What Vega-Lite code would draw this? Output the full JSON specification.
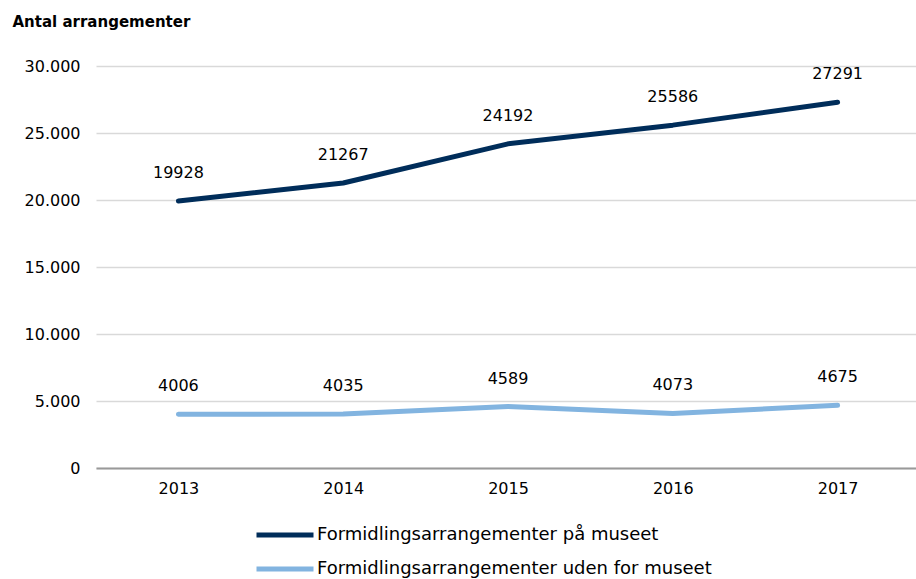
{
  "$schema": "https://vega.github.io/schema/vega-lite/v6.json",
  "width": 824,
  "height": 402,
  "padding": {"left": 96, "top": 66, "right": 0, "bottom": 111},
  "autosize": {"type": "none"},
  "background": "white",
  "config": {
    "view": {"stroke": null},
    "font": "DejaVu Sans",
    "axis": {"labelFont": "DejaVu Sans", "labelFontSize": 16, "labelColor": "#000000"}
  },
  "data": {
    "values": [
      {"year": "2013", "series": "Formidlingsarrangementer på museet", "value": 19928},
      {"year": "2014", "series": "Formidlingsarrangementer på museet", "value": 21267},
      {"year": "2015", "series": "Formidlingsarrangementer på museet", "value": 24192},
      {"year": "2016", "series": "Formidlingsarrangementer på museet", "value": 25586},
      {"year": "2017", "series": "Formidlingsarrangementer på museet", "value": 27291},
      {"year": "2013", "series": "Formidlingsarrangementer uden for museet", "value": 4006},
      {"year": "2014", "series": "Formidlingsarrangementer uden for museet", "value": 4035},
      {"year": "2015", "series": "Formidlingsarrangementer uden for museet", "value": 4589},
      {"year": "2016", "series": "Formidlingsarrangementer uden for museet", "value": 4073},
      {"year": "2017", "series": "Formidlingsarrangementer uden for museet", "value": 4675}
    ]
  },
  "encoding": {
    "x": {
      "field": "year",
      "type": "ordinal",
      "scale": {"type": "point", "padding": 0.5},
      "axis": {
        "title": null,
        "labelAngle": 0,
        "ticks": false,
        "domain": true,
        "domainColor": "#999999",
        "domainWidth": 2,
        "labelPadding": 12,
        "grid": false
      }
    },
    "y": {
      "field": "value",
      "type": "quantitative",
      "scale": {"domain": [0, 30000], "nice": false},
      "axis": {
        "values": [0, 5000, 10000, 15000, 20000, 25000, 30000],
        "labelExpr": "replace(format(datum.value, ','), ',', '.')",
        "title": "Antal arrangementer",
        "titleAngle": 0,
        "titleAlign": "left",
        "titleBaseline": "alphabetic",
        "titleX": -84,
        "titleY": -40,
        "titleFont": "DejaVu Sans",
        "titleFontSize": 15,
        "titleFontWeight": "bold",
        "titleColor": "#000000",
        "domain": false,
        "ticks": false,
        "labelPadding": 16,
        "grid": true,
        "gridColor": "#d9d9d9",
        "gridWidth": 1.5
      }
    }
  },
  "layer": [
    {
      "mark": {"type": "line", "strokeWidth": 5, "strokeCap": "round", "strokeJoin": "round"},
      "encoding": {
        "color": {
          "field": "series",
          "type": "nominal",
          "scale": {
            "domain": ["Formidlingsarrangementer på museet", "Formidlingsarrangementer uden for museet"],
            "range": ["#002d5a", "#82b4e0"]
          },
          "legend": {
            "title": null,
            "orient": "none",
            "direction": "vertical",
            "legendX": 158,
            "legendY": 457,
            "symbolType": "M-1,0H5",
            "symbolSize": 361,
            "symbolStrokeWidth": 5,
            "symbolStrokeCap": "round",
            "labelFont": "DejaVu Sans",
            "labelFontSize": 18,
            "labelColor": "#000000",
            "labelOffset": 39,
            "rowPadding": 12,
            "labelLimit": 600
          }
        }
      }
    },
    {
      "mark": {"type": "text", "dy": -28, "fontSize": 16, "font": "DejaVu Sans", "color": "#000000"},
      "encoding": {
        "text": {"field": "value", "type": "quantitative", "format": "d"}
      }
    }
  ]
}
